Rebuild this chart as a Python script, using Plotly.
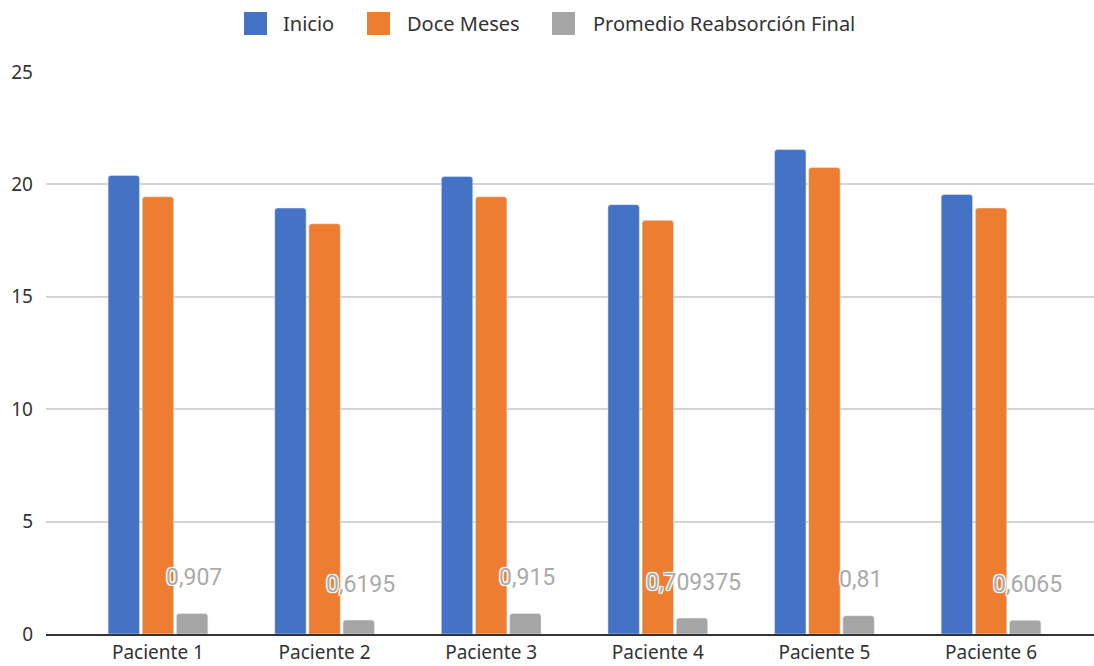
import plotly.graph_objects as go

# Datos por paciente
pacientes = ["Paciente 1", "Paciente 2", "Paciente 3", "Paciente 4", "Paciente 5", "Paciente 6"]
inicio = [20.4, 18.95, 20.35, 19.1, 21.55, 19.55]
doce_meses = [19.45, 18.25, 19.45, 18.4, 20.75, 18.95]
reabsorcion = [0.907, 0.6195, 0.915, 0.709375, 0.81, 0.6065]
y_ticks = [0, 5, 10, 15, 20, 25]

series = ["Inicio", "Doce Meses", "Promedio Reabsorción Final"]
colores = ["#4472c4", "#ed7d31", "#a5a5a5"]

W, H = 1094, 666
ML, MR, MT, MB = 46, 0, 72, 32
PW, PH = W - ML - MR, H - MT - MB


def px_x(px):
    return (px - ML) / PW


def px_y(py):
    return (H - MB - py) / PH


fig = go.Figure()
for nombre, valores, color in zip(series, [inicio, doce_meses, reabsorcion], colores):
    fig.add_trace(go.Bar(name=nombre, x=pacientes, y=valores, marker_color=color,
                         showlegend=False))

# Etiquetas de valor sobre las barras grises, con halo blanco
halo = "white 1px 1px 0, white -1px -1px 0, white 1px -1px 0, white -1px 1px 0, white 0 0 3px"
for p, v in zip(pacientes, reabsorcion):
    fig.add_annotation(
        x=p, y=v, xref="x", yref="y",
        text=f"{v:g}".replace(".", ","),
        showarrow=False, xshift=36, yshift=36,
        xanchor="center", yanchor="middle",
        font=dict(family="Roboto", size=23, color="#aaaaaa", shadow=halo),
    )

# Leyenda superior con cuadros grandes
leyenda_cuadro = [244, 367, 552]
leyenda_texto = [281, 405, 591]
for nombre, color, xc, xt in zip(series, colores, leyenda_cuadro, leyenda_texto):
    fig.add_shape(type="rect", xref="paper", yref="paper",
                  x0=px_x(xc), x1=px_x(xc + 23), y0=px_y(35), y1=px_y(12),
                  fillcolor=color, line_width=0, layer="above")
    fig.add_annotation(x=px_x(xt), y=px_y(23.5), xref="paper", yref="paper",
                       text=nombre, showarrow=False, xanchor="left", yanchor="middle",
                       font=dict(family="Noto Sans", size=20, color="#333333"))

fig.update_layout(
    width=W, height=H,
    margin=dict(l=ML, r=MR, t=MT, b=MB),
    paper_bgcolor="white", plot_bgcolor="white",
    barmode="group", bargap=0.385, bargroupgap=0.08,
    barcornerradius=3,
    showlegend=False,
    xaxis=dict(type="category", range=[-0.672, 5.618], showgrid=False,
               showline=True, linecolor="#333333", linewidth=2,
               ticks="", tickfont=dict(family="Noto Sans", size=19, color="#333333"),
               ticklabelstandoff=0, automargin=False),
    yaxis=dict(range=[0, 25], tickvals=y_ticks, showgrid=True, gridcolor="#d4d4d4",
               gridwidth=2, zeroline=False, showline=False, ticks="",
               tickfont=dict(family="Noto Sans", size=19, color="#333333"),
               ticklabelstandoff=12, automargin=False),
)

fig.write_html("out.html")
